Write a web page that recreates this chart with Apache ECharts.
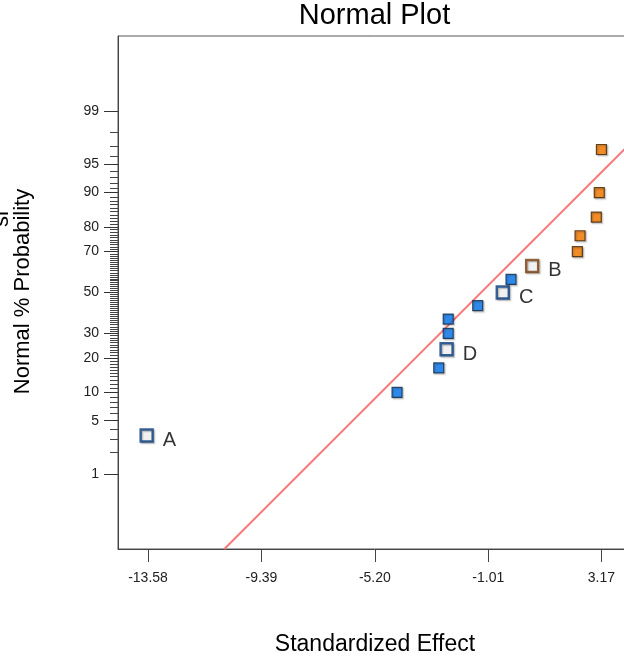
<!DOCTYPE html>
<html>
<head>
<meta charset="utf-8">
<script src="https://cdn.jsdelivr.net/npm/echarts@6/dist/echarts.min.js"></script>
<style>
html,body{margin:0;padding:0;background:#fff;overflow:hidden;}
#chart{width:634px;height:663px;}
</style>
</head>
<body>
<div id="chart"></div>
<script>
// ---- data ----
const effects = [-13.63, -4.38, -2.84, -2.55, -2.49, -2.49, -1.40, -0.475, -0.17, 0.61, 2.28, 2.38, 2.98, 3.09, 3.17];
const probs   = [3.33, 10, 16.67, 23.33, 30, 36.67, 43.33, 50, 56.67, 63.33, 70, 76.67, 83.33, 90, 96.67];
const termLabels = ['A', '', '', 'D', '', '', '', 'C', '', 'B', '', '', '', '', ''];
const xTicks = [-13.58, -9.39, -5.20, -1.01, 3.17];
const yMajorTicks = [1, 5, 10, 20, 30, 50, 70, 80, 90, 95, 99];
const yMinorTicks = [];
for (let p = 1; p <= 99; p++) if (yMajorTicks.indexOf(p) < 0) yMinorTicks.push(p);
const fitLine = [[-10.76, 0.05], [4.26, 97.26]]; // [effect, % probability]
const xRange = [-14.688, 4.262];
const yRangePct = [0.05, 99.95];

// inverse normal CDF (probability scale), Acklam
function probit(p) {
  const a = [-3.969683028665376e+01, 2.209460984245205e+02, -2.759285104469687e+02, 1.383577518672690e+02, -3.066479806614716e+01, 2.506628277459239e+00];
  const b = [-5.447609879822406e+01, 1.615858368580409e+02, -1.556989798598866e+02, 6.680131188771972e+01, -1.328068155288572e+01];
  const c = [-7.784894002430293e-03, -3.223964580411365e-01, -2.400758277161838e+00, -2.549732539343734e+00, 4.374664141464968e+00, 2.938163982698783e+00];
  const d = [7.784695709041462e-03, 3.224671290700398e-01, 2.445134137142996e+00, 3.754408661907416e+00];
  const pl = 0.02425, ph = 1 - pl;
  let q, r;
  if (p < pl) {
    q = Math.sqrt(-2 * Math.log(p));
    return (((((c[0]*q+c[1])*q+c[2])*q+c[3])*q+c[4])*q+c[5]) / ((((d[0]*q+d[1])*q+d[2])*q+d[3])*q+1);
  } else if (p <= ph) {
    q = p - 0.5; r = q * q;
    return (((((a[0]*r+a[1])*r+a[2])*r+a[3])*r+a[4])*r+a[5])*q / (((((b[0]*r+b[1])*r+b[2])*r+b[3])*r+b[4])*r+1);
  } else {
    q = Math.sqrt(-2 * Math.log(1 - p));
    return -(((((c[0]*q+c[1])*q+c[2])*q+c[3])*q+c[4])*q+c[5]) / ((((d[0]*q+d[1])*q+d[2])*q+d[3])*q+1);
  }
}
const z = pct => probit(pct / 100);
const majorZ = yMajorTicks.map(z);
function pctLabel(v) {
  let best = 0, bd = Infinity;
  majorZ.forEach((m, i) => { const d = Math.abs(m - v); if (d < bd) { bd = d; best = i; } });
  return String(yMajorTicks[best]);
}

const BLUE = '#0a7df5', BLUE_EDGE = '#10284a';
const ORANGE = '#ff7f00', ORANGE_EDGE = '#3d2200';

const pointData = effects.map((e, i) => {
  const neg = e < 0;
  const hollow = termLabels[i] !== '';
  return {
    value: [e, z(probs[i])],
    symbolSize: hollow ? 12 : 10,
    itemStyle: {
      color: hollow ? '#ffffff' : (neg ? BLUE : ORANGE),
      borderColor: hollow ? (neg ? '#0b3f80' : '#7a4010') : (neg ? BLUE_EDGE : ORANGE_EDGE),
      borderWidth: hollow ? 2.4 : 1.2
    },
    label: {
      show: hollow,
      formatter: termLabels[i]
    }
  };
});

const font = 'Liberation Sans, Arial, Helvetica, sans-serif';
const chart = echarts.init(document.getElementById('chart'), null, {renderer: 'canvas'});
const yMin = z(yRangePct[0]), yMax = z(yRangePct[1]);

chart.setOption({
  animation: false,
  backgroundColor: '#ffffff',
  grid: {left: 118, top: 36, width: 513, height: 513, show: true, borderColor: '#555', borderWidth: 1, backgroundColor: 'transparent'},
  xAxis: {
    type: 'value', min: xRange[0], max: xRange[1],
    splitLine: {show: false},
    axisLine: {show: true, onZero: false, lineStyle: {color: '#444', width: 1}},
    axisTick: {show: true, customValues: xTicks, length: 13, lineStyle: {color: '#444', width: 1}},
    axisLabel: {customValues: xTicks, formatter: v => v.toFixed(2), margin: 22, fontSize: 14, color: '#222', fontFamily: font}
  },
  yAxis: [
    {
      type: 'value', min: yMin, max: yMax, position: 'left',
      splitLine: {show: false},
      axisLine: {show: true, onZero: false, lineStyle: {color: '#444', width: 1}},
      axisTick: {show: true, customValues: majorZ, length: 14, lineStyle: {color: '#333', width: 1}},
      axisLabel: {customValues: majorZ, formatter: v => pctLabel(v), margin: 19, fontSize: 14, color: '#222', fontFamily: font}
    },
    {
      type: 'value', min: yMin, max: yMax, position: 'left', offset: 0,
      splitLine: {show: false},
      axisLine: {show: false, onZero: false},
      axisTick: {show: true, customValues: yMinorTicks.map(z), length: 8, lineStyle: {color: '#444', width: 1}},
      axisLabel: {show: false}
    }
  ],
  series: [
    {
      type: 'line',
      data: fitLine.map(p => [p[0], z(p[1])]),
      symbol: 'none',
      lineStyle: {color: '#f77b7b', width: 2},
      clip: true,
      silent: true,
      z: 1
    },
    {
      type: 'scatter',
      symbol: 'rect',
      data: pointData,
      itemStyle: {shadowColor: 'rgba(0,0,0,0.35)', shadowBlur: 1.5, shadowOffsetX: 1.2, shadowOffsetY: 1.2},
      label: {position: 'right', distance: 9, offset: [0, 5], fontSize: 20, color: '#000', fontFamily: font},
      z: 3
    }
  ],
  graphic: [
    {type: 'text', x: 374.5, y: 16, style: {text: 'Normal Plot', fontSize: 29, fontFamily: font, fill: '#000', textAlign: 'center', textVerticalAlign: 'middle'}},
    {type: 'text', x: 375, y: 645, style: {text: 'Standardized Effect', fontSize: 23, fontFamily: font, fill: '#000', textAlign: 'center', textVerticalAlign: 'middle'}},
    {type: 'text', x: 23, y: 291.5, rotation: Math.PI / 2, style: {text: 'Normal % Probability', fontSize: 22, fontFamily: font, fill: '#000', textAlign: 'center', textVerticalAlign: 'middle'}},
    {type: 'text', x: 2, y: 219, rotation: Math.PI / 2, style: {text: 'si', fontSize: 22, fontFamily: font, fill: '#000', textAlign: 'center', textVerticalAlign: 'middle'}}
  ]
});
</script>
</body>
</html>
